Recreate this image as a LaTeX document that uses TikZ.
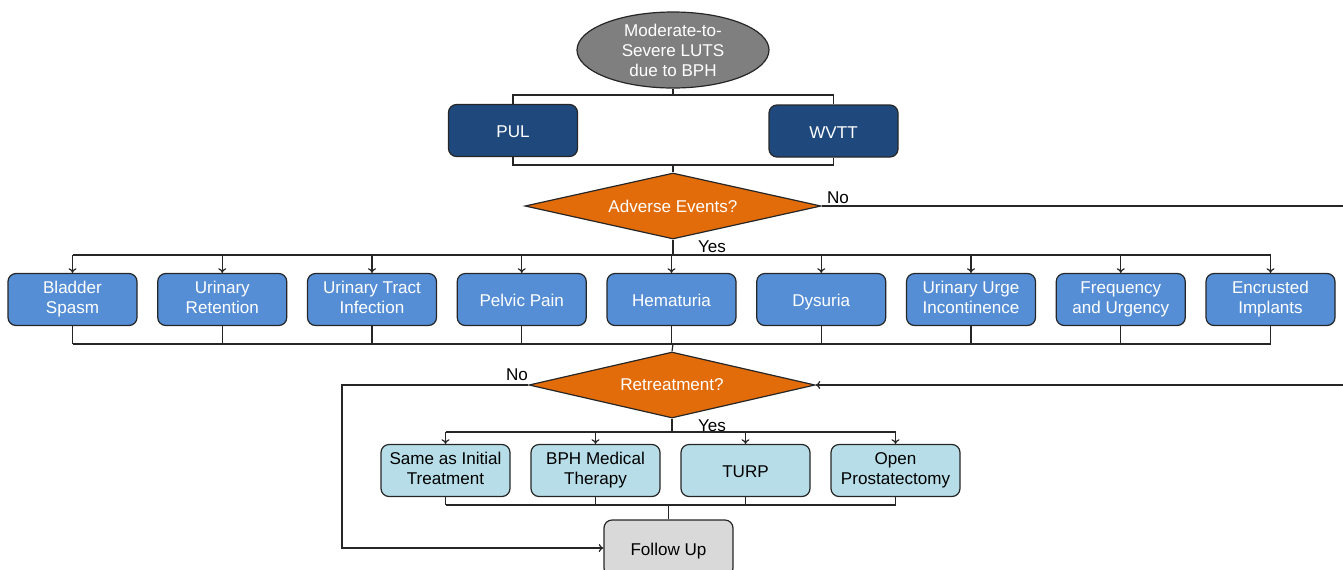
\documentclass[tikz,border=0pt]{standalone}
\usepackage{fontspec}
\setmainfont{Liberation Sans}
\usetikzlibrary{shapes.geometric, arrows.meta}

\definecolor{linegray}{HTML}{262626}
\definecolor{startgray}{HTML}{7F7F7F}
\definecolor{darkblue}{HTML}{1F497D}
\definecolor{midblue}{HTML}{558ED5}
\definecolor{lightcyan}{HTML}{B7DEE8}
\definecolor{fugray}{HTML}{D9D9D9}
\definecolor{aeorange}{HTML}{E36C0A}

\newcommand{\topstrut}{\rule{0pt}{14pt}}
\newcommand{\botstrut}{\rule[-3pt]{0pt}{3pt}}

\tikzset{
  box/.style = {draw = linegray, rounded corners = 6pt, align = center,
    minimum width = 96.75pt, minimum height = 39pt, inner sep = 1pt,
    execute at begin node = \topstrut, execute at end node = \botstrut},
  treat/.style = {box, fill = darkblue, text = white},
  event/.style = {box, fill = midblue, text = white},
  option/.style = {box, fill = lightcyan, text = black},
  decision/.style = {diamond, draw = linegray, fill = aeorange, text = white,
    shape aspect = 4.5, inner sep = 0pt, minimum width = 222pt, minimum height = 49.5pt}
}

\begin{document}
\begin{tikzpicture}[x = 0.75pt, y = -0.75pt, line width = 0.9pt, draw = linegray,
    font = \fontsize{12.8}{15}\selectfont, >={To[length=3.5pt,width=6pt]}]
  \useasboundingbox (0,0) rectangle (1343,569);

  \node [ellipse, draw = linegray, fill = startgray, text = white, align = center,
    inner sep = 0pt, minimum width = 144pt, minimum height = 57pt] (luts) at (673,50)
    {Moderate-to-\\Severe LUTS\\due to BPH};
  \node [treat] (pul)  at (513,130.5) {PUL};
  \node [treat] (wvtt) at (833.5,131) {WVTT};
  \node [decision] (ae) at (673,206) {Adverse Events?};

  \foreach \name/\txt [count = \i from 0] in {bs/Bladder\\Spasm, ur/Urinary\\Retention,
      uti/Urinary Tract\\Infection, pp/Pelvic Pain, hem/Hematuria, dys/Dysuria,
      uui/Urinary Urge\\Incontinence, fu/Frequency\\and Urgency, ei/Encrusted\\Implants}
    \node [event] (\name) at (72.5+149.75*\i,299.5) {\txt};

  \node [decision, minimum width = 214.5pt] (ret) at (672,385) {Retreatment?};

  \foreach \name/\txt [count = \i from 0] in {same/Same as Initial\\Treatment,
      med/BPH Medical\\Therapy, turp/TURP, open/Open\\Prostatectomy}
    \node [option] (\name) at (445.5+150*\i,470.5) {\txt};

  \node [box, fill = fugray, minimum height = 42pt] (follow) at (668.5,548) {Follow Up};

  \node (noae)   at (838,198) {No};
  \node (yesae)  at (712,247) {Yes};
  \node (noret)  at (517,375) {No};
  \node (yesret) at (712,426) {Yes};

  % first treatment
  \coordinate (top) at (673,95);
  \coordinate (mid) at (673,165);
  \draw (luts) -- (top);
  \draw (pul.north) |- (top) -| (wvtt.north);
  \draw (pul.south) |- (mid) -| (wvtt.south);
  \draw (mid) -- (ae.north);

  % adverse events
  \coordinate (evtop) at (673,255);
  \coordinate (evbot) at (673,344);
  \draw (ae.south) -- (evtop);
  \draw (bs.north |- evtop) -- (ei.north |- evtop);
  \draw (bs.south |- evbot) -- (ei.south |- evbot);
  \foreach \name in {bs,ur,uti,pp,hem,dys,uui,fu,ei} {
    \draw [->] (\name.north |- evtop) -- (\name.north);
    \draw (\name.south) -- (\name.south |- evbot);
  }
  \draw (evbot) -- (ret.north);

  % no adverse events
  \coordinate (aeout)  at (1365,206);
  \coordinate (retout) at (1365,385);
  \draw [->] (ae.east) -- (aeout) -- (retout) -- (ret.east);

  % retreatment
  \coordinate (optop) at (672,432);
  \coordinate (opbot) at (668.5,505);
  \coordinate (noleft) at (342,385);
  \draw (ret.south) -- (optop);
  \draw (same.north |- optop) -- (open.north |- optop);
  \draw (same.south |- opbot) -- (open.south |- opbot);
  \foreach \name in {same,med,turp,open} {
    \draw [->] (\name.north |- optop) -- (\name.north);
    \draw (\name.south) -- (\name.south |- opbot);
  }
  \draw (opbot) -- (follow.north);
  \draw [->] (ret.west) -- (noleft) |- (follow.west);
\end{tikzpicture}
\end{document}
